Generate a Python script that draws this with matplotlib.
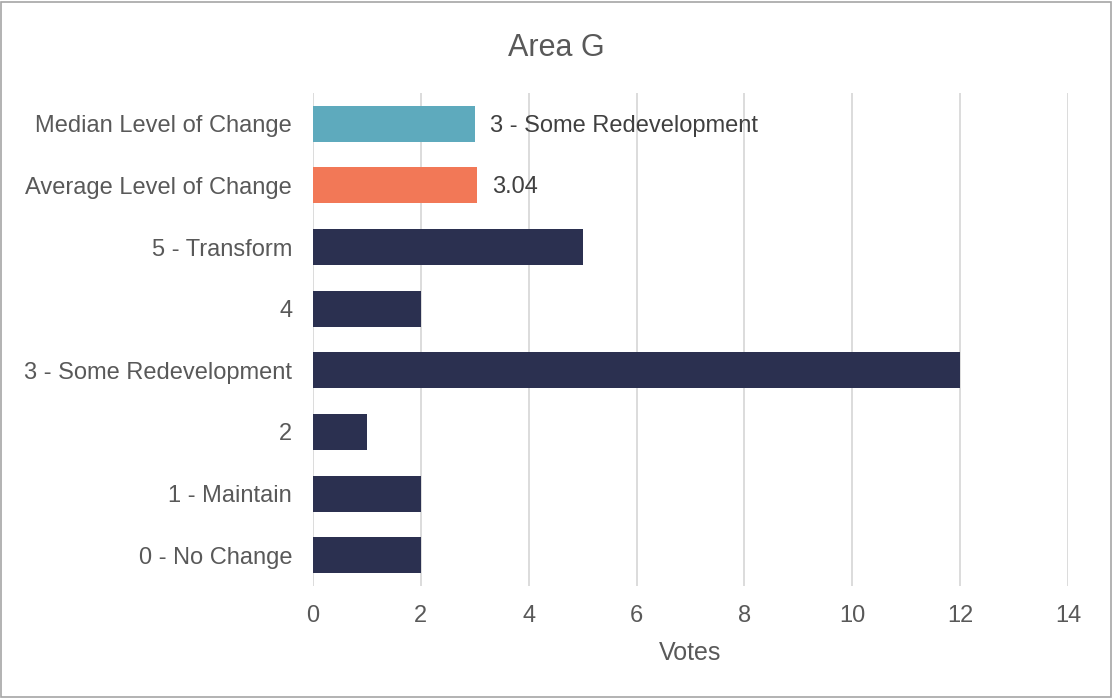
import matplotlib
matplotlib.use("Agg")
import matplotlib.pyplot as plt

plt.rcParams['font.family'] = ['Liberation Sans', 'DejaVu Sans']

categories = ["0 - No Change", "1 - Maintain", "2", "3 - Some Redevelopment", "4",
              "5 - Transform", "Average Level of Change", "Median Level of Change"]
votes = [2, 2, 1, 12, 2, 5, 3.04, 3]
bar_labels = {"Average Level of Change": "3.04", "Median Level of Change": "3 - Some Redevelopment"}
colors = ["#2B3050"] * 6 + ["#F27857", "#5EAABD"]
xticks = [0, 2, 4, 6, 8, 10, 12, 14]

fig = plt.figure(figsize=(11.12, 6.98), dpi=100)
ax = fig.add_axes([0.2815, 0.1605, 0.6789, 0.7063])

ypos = range(len(categories))
ax.barh(ypos, votes, height=0.585, color=colors, zorder=3)
for i, cat in enumerate(categories):
    if cat in bar_labels:
        ax.text(votes[i] + 0.28, i - 0.03, bar_labels[cat], va="center", ha="left",
                fontsize=17, color="#404040")

ax.set_yticks(list(ypos))
ax.set_yticklabels(categories, fontsize=17, color="#595959")
ax.set_xticks(xticks)
ax.set_xticklabels([str(t) for t in xticks], fontsize=17, color="#595959")
ax.set_xlim(0, 14)
ax.set_ylim(-0.5, len(categories) - 0.5)
ax.grid(axis="x", color="#D9D9D9", linewidth=1.3, zorder=0)
ax.tick_params(axis="y", length=0, pad=15)
ax.tick_params(axis="x", length=0, pad=14)
for s in ax.spines.values():
    s.set_visible(False)
ax.set_xlabel("Votes", fontsize=18, color="#595959", labelpad=10)
fig.suptitle("Area G", fontsize=22, color="#595959", y=0.953)

fig.patches.append(plt.Rectangle((0.001, 0.001), 0.998, 0.996, transform=fig.transFigure,
                                 fill=False, edgecolor="#A6A6A6", linewidth=1.2))

fig.savefig("out.png", dpi=100)
